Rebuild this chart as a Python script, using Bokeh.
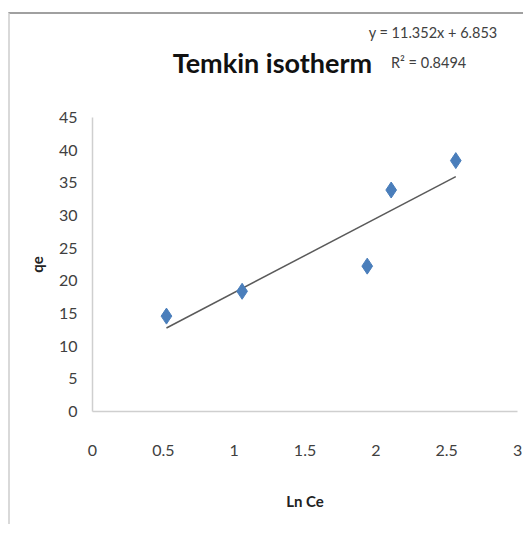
from bokeh.plotting import figure
from bokeh.models import Range1d, Label, FixedTicker
from bokeh.embed import file_html
from bokeh.resources import INLINE

# data
ln_ce = [0.522, 1.056, 1.939, 2.108, 2.564]
qe = [14.6, 18.4, 22.25, 33.9, 38.4]
slope = 11.352
intercept = 6.853
r2 = 0.8494
x_ticks = [0, 0.5, 1, 1.5, 2, 2.5, 3]
y_ticks = [0, 5, 10, 15, 20, 25, 30, 35, 40, 45]

FONT = "Lato"

p = figure(width=515, height=512, output_backend="svg", toolbar_location=None,
           x_range=Range1d(-0.494, 3.056), y_range=Range1d(-15, 60),
           min_border_left=12, min_border_top=5, min_border_bottom=17, min_border_right=0)
p.styles = {"border-left": "2px solid #d9d9d9", "border-top": "2px solid #a0a0a0",
            "margin-top": "12px", "margin-left": "8px"}
p.outline_line_color = None
p.grid.visible = False

p.xaxis.ticker = FixedTicker(ticks=x_ticks)
p.yaxis.ticker = FixedTicker(ticks=y_ticks)
p.yaxis.bounds = (0, 45)
p.xaxis.bounds = (0, 3)
p.xaxis.fixed_location = 0
p.yaxis.fixed_location = 0
for ax in (p.xaxis[0], p.yaxis[0]):
    ax.axis_line_color = "#cfcfcf"
    ax.axis_line_width = 1.5
    ax.major_tick_line_color = None
    ax.minor_tick_line_color = None
    ax.major_label_text_font = FONT
    ax.major_label_text_font_size = "16px"
    ax.major_label_text_color = "#404040"
    ax.axis_label_text_font = FONT
    ax.axis_label_text_font_size = "15px"
    ax.axis_label_text_font_style = "bold"
    ax.axis_label_text_color = "#222222"

p.xaxis.major_label_standoff = 27
p.xaxis.axis_label = "Ln Ce"
p.xaxis.axis_label_standoff = 33
p.yaxis.major_label_standoff = 9
p.yaxis.axis_label = "qe"
p.yaxis.axis_label_standoff = 10

# trendline from the fitted equation
xs = [min(ln_ce), max(ln_ce)]
ys = [slope * x + intercept for x in xs]
p.line(xs, ys, line_color="#5a5a5a", line_width=1.5)

p.scatter(ln_ce, qe, marker="diamond", size=16, fill_color="#4a7ebb", line_color="#4a7ebb")

p.add_layout(Label(x=1.27, y=53.4, text="Temkin isotherm", text_font=FONT,
                   text_font_size="27px", text_font_style="bold", text_color="#111111",
                   text_align="center", text_baseline="middle"))
p.add_layout(Label(x=2.404, y=58.0, text=f"y = {slope}x + {intercept}", text_font=FONT,
                   text_font_size="14.5px", text_color="#404040",
                   text_align="center", text_baseline="middle"))
p.add_layout(Label(x=2.372, y=53.4, text=f"R² = {r2}", text_font=FONT,
                   text_font_size="14.5px", text_color="#404040",
                   text_align="center", text_baseline="middle"))

open("out.html", "w").write(file_html(p, INLINE))
